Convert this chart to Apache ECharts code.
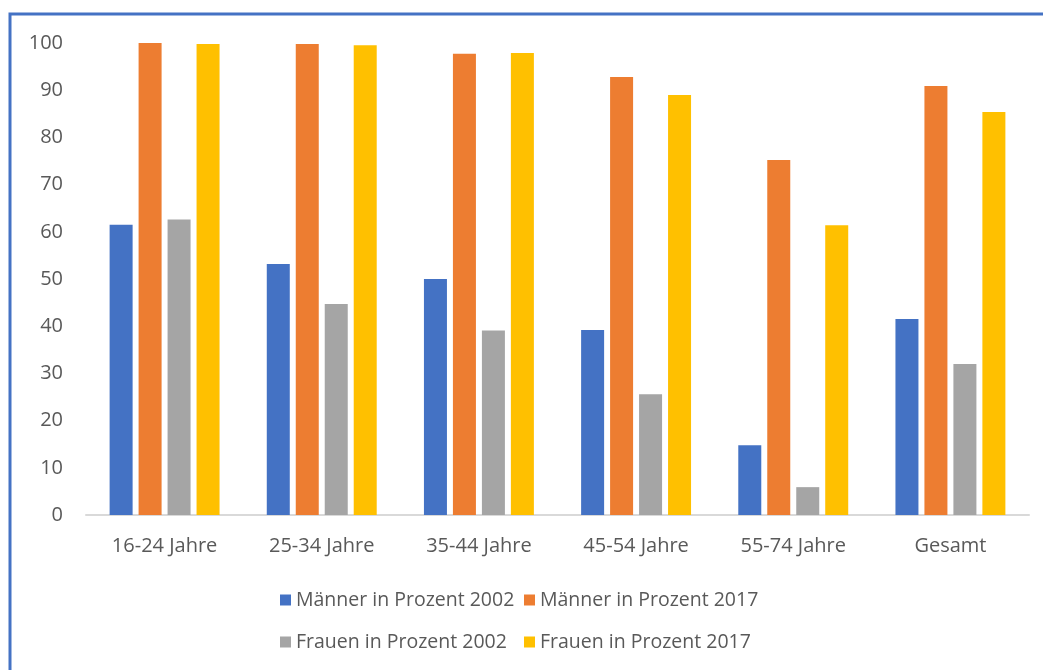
<!DOCTYPE html>
<html>
<head>
<meta charset="utf-8">
<script src="https://cdn.jsdelivr.net/npm/echarts@6/dist/echarts.min.js"></script>
<style>
  html, body { margin: 0; padding: 0; background: #fff; }
  #chart { width: 1043px; height: 670px; }
</style>
</head>
<body>
<div id="chart"></div>
<script>
const categories = ["16-24 Jahre", "25-34 Jahre", "35-44 Jahre", "45-54 Jahre", "55-74 Jahre", "Gesamt"];
const seriesNames = ["Männer in Prozent 2002", "Männer in Prozent 2017", "Frauen in Prozent 2002", "Frauen in Prozent 2017"];
const maenner2002 = [61.5, 53.2, 50, 39.2, 14.8, 41.5];
const maenner2017 = [100, 99.8, 97.7, 92.8, 75.2, 90.9];
const frauen2002 = [62.6, 44.7, 39.1, 25.6, 5.9, 32];
const frauen2017 = [99.8, 99.5, 97.9, 89, 61.4, 85.4];
const colors = ["#4472C4", "#ED7D31", "#A5A5A5", "#FFC000"];

const container = document.getElementById("chart");
let myChart = echarts.init(container);
const font = "'Open Sans', sans-serif";
const values = [maenner2002, maenner2017, frauen2002, frauen2017];

let series = values.map(function (v, i) {
  return {
    name: seriesNames[i],
    type: "bar",
    barWidth: 23,
    barGap: "26%",
    itemStyle: { color: colors[i] },
    data: v,
  };
});

const legendStyle = {
  orient: "vertical",
  top: 588,
  padding: 0,
  icon: "rect",
  itemWidth: 11,
  itemHeight: 11,
  itemGap: 18,
  textStyle: { fontFamily: font, fontSize: 19.5, lineHeight: 24, color: "#595959" },
};

let option = {
  animation: false,
  color: colors,
  grid: { left: 86, right: 14, top: 43, bottom: 155 },
  graphic: [
    {
      type: "rect",
      shape: { x: 10, y: 14, width: 1200, height: 800 },
      style: { fill: "none", stroke: "#4472C4", lineWidth: 3 },
    },
  ],
  legend: [
    Object.assign({ left: 280, data: [seriesNames[0], seriesNames[2]] }, legendStyle),
    Object.assign({ left: 524, data: [seriesNames[1], seriesNames[3]] }, legendStyle),
  ],
  xAxis: {
    type: "category",
    data: categories,
    axisLine: { lineStyle: { color: "#d9d9d9", width: 2 } },
    axisTick: { show: false },
    axisLabel: { margin: 21, fontFamily: font, fontSize: 20, color: "#595959" },
  },
  yAxis: {
    type: "value",
    min: 0,
    max: 100,
    interval: 10,
    splitLine: { show: false },
    axisLine: { show: false },
    axisLabel: { margin: 23, fontFamily: font, fontSize: 20, color: "#595959" },
  },
  series: series,
};

myChart.setOption(option);
window.addEventListener("resize", myChart.resize);
</script>
</body>
</html>
